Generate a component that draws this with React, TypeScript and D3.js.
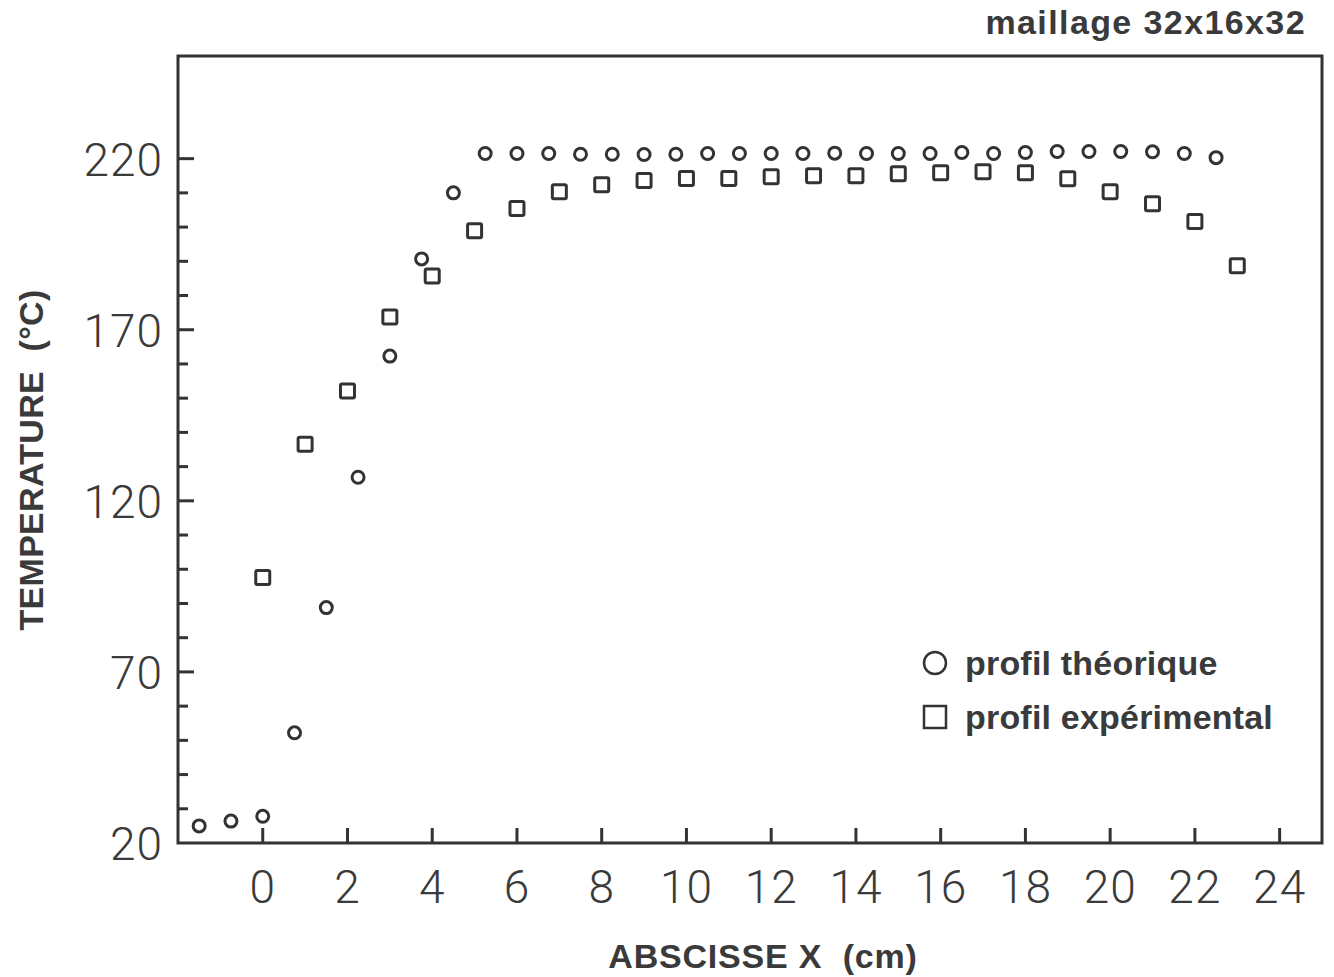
import React from "react";
import * as d3 from "d3";

const W = 1334;
const H = 977;

// theoretical profile (circles)
const theoX = [-1.5, -0.75, 0, 0.75, 1.5, 2.25, 3.0, 3.75, 4.5, 5.25, 6.0, 6.75, 7.5, 8.25, 9.0, 9.75, 10.5, 11.25, 12.0, 12.75, 13.5, 14.25, 15.0, 15.75, 16.5, 17.25, 18.0, 18.75, 19.5, 20.25, 21.0, 21.75, 22.5];
const theoY = [25, 26.4, 27.8, 52.2, 88.8, 126.9, 162.3, 190.7, 210, 221.5, 221.5, 221.5, 221.3, 221.3, 221.2, 221.3, 221.5, 221.5, 221.5, 221.5, 221.6, 221.5, 221.5, 221.5, 221.8, 221.5, 221.8, 222.1, 222.1, 222.1, 222.0, 221.5, 220.3];

// experimental profile (squares)
const expX = [0, 1, 2, 3, 4, 5, 6, 7, 8, 9, 10, 11, 12, 13, 14, 15, 16, 17, 18, 19, 20, 21, 22, 23];
const expY = [97.6, 136.5, 152.1, 173.7, 185.7, 198.9, 205.4, 210.3, 212.4, 213.6, 214.2, 214.2, 214.7, 215.0, 215.0, 215.6, 215.9, 216.2, 215.9, 214.1, 210.3, 206.8, 201.6, 188.7];

const xTicks = [0, 2, 4, 6, 8, 10, 12, 14, 16, 18, 20, 22, 24];
const yMajor = [20, 70, 120, 170, 220];
const yMinor = d3.range(30, 221, 10);

const INK = "#333";
const TXT = "#3a3a3a";
const SANS = "'Liberation Sans', Arial, sans-serif";
const TICKFONT = "Roboto, 'DejaVu Sans', sans-serif";

export default function App() {
  const left = 178, right = 1322, top = 56, bottom = 843;
  const x = d3.scaleLinear().domain([-2, 25]).range([left, right]);
  const y = d3.scaleLinear().domain([20, 250]).range([bottom, top]);
  const sq = 14;

  return (
    <svg width={W} height={H} style={{ position: "absolute", left: 0, top: 0, background: "#fff" }}>
      <rect x={0} y={0} width={W} height={H} fill="#fff" />
      {/* frame */}
      <rect x={left} y={top} width={right - left} height={bottom - top} fill="none" stroke={INK} strokeWidth={3} />
      {/* y ticks */}
      {yMinor.map((v) => (
        <line key={"ym" + v} x1={left} x2={left + (yMajor.includes(v) ? 16 : 10)} y1={y(v)} y2={y(v)} stroke={INK} strokeWidth={3} />
      ))}
      {yMajor.map((v) => (
        <text key={"yl" + v} x={left - 15} y={y(v) + 17} textAnchor="end" letterSpacing={1}
          fontFamily={TICKFONT} fontWeight={300} fontSize={46} fill={TXT}>{v}</text>
      ))}
      {/* x ticks */}
      {xTicks.map((v) => (
        <line key={"xt" + v} x1={x(v)} x2={x(v)} y1={bottom} y2={bottom - 15} stroke={INK} strokeWidth={3} />
      ))}
      {xTicks.map((v) => (
        <text key={"xl" + v} x={x(v)} y={903} textAnchor="middle" letterSpacing={1}
          fontFamily={TICKFONT} fontWeight={300} fontSize={46} fill={TXT}>{v}</text>
      ))}
      {/* markers */}
      {theoX.map((v, i) => (
        <circle key={"c" + i} cx={x(v)} cy={y(theoY[i])} r={6} fill="none" stroke={INK} strokeWidth={3} />
      ))}
      {expX.map((v, i) => (
        <rect key={"s" + i} x={x(v) - sq / 2} y={y(expY[i]) - sq / 2} width={sq} height={sq} rx={1.5} fill="none" stroke={INK} strokeWidth={3} />
      ))}
      {/* legend */}
      <circle cx={935} cy={663} r={11} fill="none" stroke={INK} strokeWidth={2.5} />
      <text x={965} y={675} fontFamily={SANS} fontWeight="bold" fontSize={34} letterSpacing={0.2} fill={TXT}>profil théorique</text>
      <rect x={924} y={706} width={22} height={22} fill="none" stroke={INK} strokeWidth={2.5} />
      <text x={965} y={729} fontFamily={SANS} fontWeight="bold" fontSize={34} letterSpacing={0.2} fill={TXT}>profil expérimental</text>
      {/* titles */}
      <text x={1306} y={34} textAnchor="end" fontFamily={SANS} fontWeight="bold" fontSize={34} letterSpacing={1.4} fill={TXT}>maillage 32x16x32</text>
      <text x={763} y={968} textAnchor="middle" fontFamily={SANS} fontWeight="bold" fontSize={34} letterSpacing={0.8} fill={TXT} xmlSpace="preserve">ABSCISSE X  (cm)</text>
      <text transform={`translate(43,460) rotate(-90)`} textAnchor="middle" fontFamily={SANS} fontWeight="bold" fontSize={34} letterSpacing={0.3} fill={TXT} xmlSpace="preserve">TEMPERATURE  (°C)</text>
    </svg>
  );
}
